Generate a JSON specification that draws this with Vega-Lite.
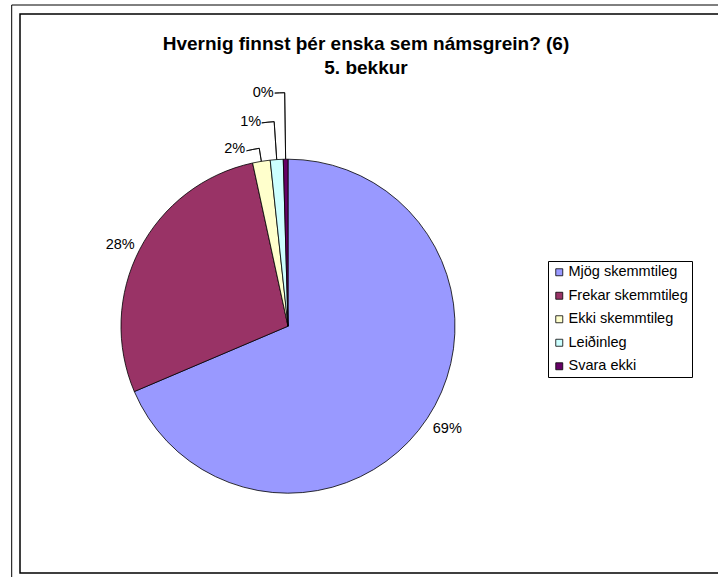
{
  "$schema": "https://vega.github.io/schema/vega-lite/v6.json",
  "width": 718,
  "height": 577,
  "padding": 0,
  "autosize": {"type": "none"},
  "background": "white",
  "config": {"view": {"stroke": null}, "font": "Liberation Sans"},
  "title": {
    "text": ["Hvernig finnst þér enska sem námsgrein? (6)", "5. bekkur"],
    "font": "Liberation Sans",
    "fontSize": 19,
    "fontWeight": "bold",
    "color": "#000",
    "anchor": "middle",
    "frame": "group",
    "orient": "top",
    "offset": 0,
    "baseline": "top",
    "dy": 78,
    "dx": 7,
    "lineHeight": 24
  },
  "datasets": {
    "shares": [
      {"cat": "Mjög skemmtileg", "share": 0.686, "idx": 1},
      {"cat": "Frekar skemmtileg", "share": 0.28, "idx": 2},
      {"cat": "Ekki skemmtileg", "share": 0.017, "idx": 3},
      {"cat": "Leiðinleg", "share": 0.0125, "idx": 4},
      {"cat": "Svara ekki", "share": 0.0045, "idx": 5}
    ]
  },
  "layer": [
    {
      "data": {"values": [{}]},
      "mark": {"type": "rect", "filled": false, "color": "#000", "strokeWidth": 1},
      "encoding": {
        "x": {"datum": -276.3, "type": "quantitative", "scale": {"domain": [-288, 430], "nice": false, "zero": false}, "axis": null},
        "x2": {"datum": 480},
        "y": {"datum": 321.2, "type": "quantitative", "scale": {"domain": [-250.8, 326.2], "nice": false, "zero": false}, "axis": null},
        "y2": {"datum": -300}
      }
    },
    {
      "data": {"values": [{}]},
      "mark": {"type": "rect", "filled": false, "color": "#000", "strokeWidth": 1.5},
      "encoding": {
        "x": {"datum": -268, "type": "quantitative", "scale": {"domain": [-288, 430], "nice": false, "zero": false}, "axis": null},
        "x2": {"datum": 480},
        "y": {"datum": 312.2, "type": "quantitative", "scale": {"domain": [-250.8, 326.2], "nice": false, "zero": false}, "axis": null},
        "y2": {"datum": -246.8}
      }
    },
    {
      "data": {"name": "shares"},
      "mark": {"type": "arc", "radius": 167, "stroke": "#000", "strokeWidth": 0.8},
      "encoding": {
        "x": {"datum": 0, "type": "quantitative", "scale": {"domain": [-288, 430], "nice": false, "zero": false}, "axis": null},
        "y": {"datum": 0, "type": "quantitative", "scale": {"domain": [-250.8, 326.2], "nice": false, "zero": false}, "axis": null},
        "theta": {"field": "share", "type": "quantitative", "stack": true},
        "order": {"field": "idx", "type": "quantitative"},
        "color": {
          "field": "cat",
          "type": "nominal",
          "scale": {
            "domain": ["Mjög skemmtileg", "Frekar skemmtileg", "Ekki skemmtileg", "Leiðinleg", "Svara ekki"],
            "range": ["#9999FF", "#993366", "#FFFFCC", "#CCFFFF", "#660066"]
          },
          "legend": {
            "title": null,
            "orient": "none",
            "legendX": 548,
            "legendY": 261,
            "direction": "vertical",
            "symbolType": "square",
            "symbolSize": 49,
            "symbolStrokeColor": "#000",
            "symbolStrokeWidth": 0.8,
            "labelFont": "Liberation Sans",
            "labelFontSize": 14.5,
            "labelColor": "#000",
            "labelOffset": 2,
            "rowPadding": 8.5,
            "padding": 4,
            "strokeColor": "#000",
            "fillColor": "#fff",
            "labelLimit": 300
          }
        }
      }
    },
    {
      "data": {"name": "shares"},
      "transform": [
        {"stack": "share", "groupby": [], "sort": [{"field": "idx", "order": "ascending"}], "as": ["s0", "s1"]},
        {"filter": "datum.idx === 3"}
      ],
      "mark": {"type": "arc", "radius": 180.2, "radius2": 167, "thetaOffset": 0.05341, "theta2Offset": -0.05341, "filled": false, "color": "#000", "strokeWidth": 0.8},
      "encoding": {
        "x": {"datum": 0, "type": "quantitative", "scale": {"domain": [-288, 430], "nice": false, "zero": false}, "axis": null},
        "y": {"datum": 0, "type": "quantitative", "scale": {"domain": [-250.8, 326.2], "nice": false, "zero": false}, "axis": null},
        "theta": {"field": "s0", "type": "quantitative", "stack": null},
        "theta2": {"field": "s1"}
      }
    },
    {
      "data": {"name": "shares"},
      "transform": [
        {"stack": "share", "groupby": [], "sort": [{"field": "idx", "order": "ascending"}], "as": ["s0", "s1"]},
        {"filter": "datum.idx === 3"}
      ],
      "mark": {"type": "arc", "radius": 180.2, "radius2": 180.2, "thetaOffset": -0.0187, "theta2Offset": -0.05341, "filled": false, "color": "#000", "strokeWidth": 0.8},
      "encoding": {
        "x": {"datum": 0, "type": "quantitative", "scale": {"domain": [-288, 430], "nice": false, "zero": false}, "axis": null},
        "y": {"datum": 0, "type": "quantitative", "scale": {"domain": [-250.8, 326.2], "nice": false, "zero": false}, "axis": null},
        "theta": {"field": "s0", "type": "quantitative", "stack": null},
        "theta2": {"field": "s1"}
      }
    },
    {
      "data": {"name": "shares"},
      "transform": [
        {"stack": "share", "groupby": [], "sort": [{"field": "idx", "order": "ascending"}], "as": ["s0", "s1"]},
        {"filter": "datum.idx === 4"}
      ],
      "mark": {"type": "arc", "radius": 205, "radius2": 167, "thetaOffset": 0.03927, "theta2Offset": -0.03927, "filled": false, "color": "#000", "strokeWidth": 0.8},
      "encoding": {
        "x": {"datum": 0, "type": "quantitative", "scale": {"domain": [-288, 430], "nice": false, "zero": false}, "axis": null},
        "y": {"datum": 0, "type": "quantitative", "scale": {"domain": [-250.8, 326.2], "nice": false, "zero": false}, "axis": null},
        "theta": {"field": "s0", "type": "quantitative", "stack": null},
        "theta2": {"field": "s1"}
      }
    },
    {
      "data": {"name": "shares"},
      "transform": [
        {"stack": "share", "groupby": [], "sort": [{"field": "idx", "order": "ascending"}], "as": ["s0", "s1"]},
        {"filter": "datum.idx === 4"}
      ],
      "mark": {"type": "arc", "radius": 205, "radius2": 205, "thetaOffset": -0.0217, "theta2Offset": -0.03927, "filled": false, "color": "#000", "strokeWidth": 0.8},
      "encoding": {
        "x": {"datum": 0, "type": "quantitative", "scale": {"domain": [-288, 430], "nice": false, "zero": false}, "axis": null},
        "y": {"datum": 0, "type": "quantitative", "scale": {"domain": [-250.8, 326.2], "nice": false, "zero": false}, "axis": null},
        "theta": {"field": "s0", "type": "quantitative", "stack": null},
        "theta2": {"field": "s1"}
      }
    },
    {
      "data": {"name": "shares"},
      "transform": [
        {"stack": "share", "groupby": [], "sort": [{"field": "idx", "order": "ascending"}], "as": ["s0", "s1"]},
        {"filter": "datum.idx === 5"}
      ],
      "mark": {"type": "arc", "radius": 233.5, "radius2": 167, "thetaOffset": 0.01414, "theta2Offset": -0.01414, "filled": false, "color": "#000", "strokeWidth": 0.8},
      "encoding": {
        "x": {"datum": 0, "type": "quantitative", "scale": {"domain": [-288, 430], "nice": false, "zero": false}, "axis": null},
        "y": {"datum": 0, "type": "quantitative", "scale": {"domain": [-250.8, 326.2], "nice": false, "zero": false}, "axis": null},
        "theta": {"field": "s0", "type": "quantitative", "stack": null},
        "theta2": {"field": "s1"}
      }
    },
    {
      "data": {"name": "shares"},
      "transform": [
        {"stack": "share", "groupby": [], "sort": [{"field": "idx", "order": "ascending"}], "as": ["s0", "s1"]},
        {"filter": "datum.idx === 5"}
      ],
      "mark": {"type": "arc", "radius": 233.5, "radius2": 233.5, "thetaOffset": -0.0287, "theta2Offset": -0.01414, "filled": false, "color": "#000", "strokeWidth": 0.8},
      "encoding": {
        "x": {"datum": 0, "type": "quantitative", "scale": {"domain": [-288, 430], "nice": false, "zero": false}, "axis": null},
        "y": {"datum": 0, "type": "quantitative", "scale": {"domain": [-250.8, 326.2], "nice": false, "zero": false}, "axis": null},
        "theta": {"field": "s0", "type": "quantitative", "stack": null},
        "theta2": {"field": "s1"}
      }
    },
    {
      "data": {"name": "shares"},
      "mark": {"type": "text", "radius": 191, "dy": -3, "align": "center", "baseline": "middle", "font": "Liberation Sans", "fontSize": 14.5, "color": "#000"},
      "encoding": {
        "x": {"datum": 0, "type": "quantitative", "scale": {"domain": [-288, 430], "nice": false, "zero": false}, "axis": null},
        "y": {"datum": 0, "type": "quantitative", "scale": {"domain": [-250.8, 326.2], "nice": false, "zero": false}, "axis": null},
        "theta": {"field": "share", "type": "quantitative", "stack": true},
        "order": {"field": "idx", "type": "quantitative"},
        "detail": {"field": "cat", "type": "nominal"},
        "text": {"condition": {"test": "datum.idx === 1", "field": "share", "type": "quantitative", "format": ".0%"}, "value": ""}
      }
    },
    {
      "data": {"name": "shares"},
      "mark": {"type": "text", "radius": 189, "dy": 6, "align": "center", "baseline": "middle", "font": "Liberation Sans", "fontSize": 14.5, "color": "#000"},
      "encoding": {
        "x": {"datum": 0, "type": "quantitative", "scale": {"domain": [-288, 430], "nice": false, "zero": false}, "axis": null},
        "y": {"datum": 0, "type": "quantitative", "scale": {"domain": [-250.8, 326.2], "nice": false, "zero": false}, "axis": null},
        "theta": {"field": "share", "type": "quantitative", "stack": true},
        "order": {"field": "idx", "type": "quantitative"},
        "detail": {"field": "cat", "type": "nominal"},
        "text": {"condition": {"test": "datum.idx === 2", "field": "share", "type": "quantitative", "format": ".0%"}, "value": ""}
      }
    },
    {
      "data": {"name": "shares"},
      "mark": {"type": "text", "radius": 180.2, "dx": -14, "dy": 1, "align": "right", "baseline": "middle", "font": "Liberation Sans", "fontSize": 14.5, "color": "#000"},
      "encoding": {
        "x": {"datum": 0, "type": "quantitative", "scale": {"domain": [-288, 430], "nice": false, "zero": false}, "axis": null},
        "y": {"datum": 0, "type": "quantitative", "scale": {"domain": [-250.8, 326.2], "nice": false, "zero": false}, "axis": null},
        "theta": {"field": "share", "type": "quantitative", "stack": true},
        "order": {"field": "idx", "type": "quantitative"},
        "detail": {"field": "cat", "type": "nominal"},
        "text": {"condition": {"test": "datum.idx === 3", "field": "share", "type": "quantitative", "format": ".0%"}, "value": ""}
      }
    },
    {
      "data": {"name": "shares"},
      "mark": {"type": "text", "radius": 205, "dx": -13, "dy": 0.5, "align": "right", "baseline": "middle", "font": "Liberation Sans", "fontSize": 14.5, "color": "#000"},
      "encoding": {
        "x": {"datum": 0, "type": "quantitative", "scale": {"domain": [-288, 430], "nice": false, "zero": false}, "axis": null},
        "y": {"datum": 0, "type": "quantitative", "scale": {"domain": [-250.8, 326.2], "nice": false, "zero": false}, "axis": null},
        "theta": {"field": "share", "type": "quantitative", "stack": true},
        "order": {"field": "idx", "type": "quantitative"},
        "detail": {"field": "cat", "type": "nominal"},
        "text": {"condition": {"test": "datum.idx === 4", "field": "share", "type": "quantitative", "format": ".0%"}, "value": ""}
      }
    },
    {
      "data": {"name": "shares"},
      "mark": {"type": "text", "radius": 233.5, "dx": -11, "align": "right", "baseline": "middle", "font": "Liberation Sans", "fontSize": 14.5, "color": "#000"},
      "encoding": {
        "x": {"datum": 0, "type": "quantitative", "scale": {"domain": [-288, 430], "nice": false, "zero": false}, "axis": null},
        "y": {"datum": 0, "type": "quantitative", "scale": {"domain": [-250.8, 326.2], "nice": false, "zero": false}, "axis": null},
        "theta": {"field": "share", "type": "quantitative", "stack": true},
        "order": {"field": "idx", "type": "quantitative"},
        "detail": {"field": "cat", "type": "nominal"},
        "text": {"condition": {"test": "datum.idx === 5", "field": "share", "type": "quantitative", "format": ".0%"}, "value": ""}
      }
    }
  ]
}
